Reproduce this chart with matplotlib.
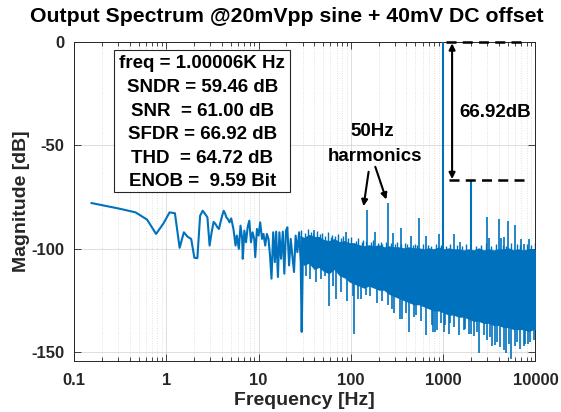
import numpy as np
import matplotlib
matplotlib.use('Agg')
import matplotlib.pyplot as plt
from matplotlib.patches import Rectangle
from matplotlib.ticker import LogLocator, NullFormatter

plt.rcParams['font.family'] = ['Liberation Sans', 'DejaVu Sans']
BLUE = '#0072BD'
DARK = '#262626'

title = 'Output Spectrum @20mVpp sine + 40mV DC offset'
x_ticks = [0.1, 1, 10, 100, 1000, 10000]
x_tick_labels = ['0.1', '1', '10', '100', '1000', '10000']
y_ticks = [-150, -100, -50, 0]
y_tick_labels = ['-150', '-100', '-50', '0']

# low-frequency bins (individually visible)
lf_freq = [0.155, 0.31, 0.465, 0.62, 0.775, 0.93, 1.085, 1.24, 1.395, 1.55, 1.705, 1.86,
           2.015, 2.17, 2.325, 2.48, 2.635, 2.79, 2.945, 3.1, 3.255, 3.41, 3.565, 3.72,
           3.875, 4.03, 4.185, 4.34, 4.495, 4.65]
lf_db = [-77.9, -80.6, -82.4, -85.9, -92.8, -87.8, -82.4, -82.8, -99.5, -92.0, -94.2, -95.2,
         -104.3, -104.5, -84.0, -81.6, -83.2, -84.8, -98.4, -92.0, -87.0, -88.0, -89.5, -90.4,
         -87.0, -84.0, -81.6, -83.0, -85.0, -85.6]

# 5 Hz - 30 Hz zig-zag
mid_freq = [4.84, 5.05, 5.34, 5.63, 5.81, 6.11, 6.37, 6.64, 6.74, 7.01, 7.31, 7.61, 7.93, 8.27,
            8.61, 8.97, 9.2, 9.6, 10.0, 10.4, 10.9, 11.3, 11.8, 12.3, 12.8, 13.3, 13.8, 14.4,
            15.0, 15.5, 16.2, 16.8, 17.5, 18.3, 19.0, 19.8, 20.5, 21.4, 22.3, 23.2, 24.2, 25.2,
            26.3, 27.5, 28.6, 29.3, 30.4]
mid_db = [-87.2, -85.3, -90.4, -98.4, -93.6, -100.0, -88.8, -95.2, -104.8, -91.2, -96.8, -89.6,
          -86.4, -96.8, -92.0, -95.2, -104.0, -90.4, -93.6, -87.2, -95.2, -92.8, -98.4, -92.8,
          -95.2, -103.2, -114.4, -92.0, -106.4, -91.7, -113.6, -92.0, -104.8, -91.7, -112.0,
          -91.2, -89.6, -108.0, -95.2, -103.2, -111.2, -93.6, -101.6, -92.0, -106.4, -140.1, -95.2]

# dense noise band (upper / lower envelope of the solid region)
band_freq = [28, 31, 35, 40, 45, 51, 58, 66, 75, 85, 96, 108, 123, 139, 157, 178, 202, 228,
             259, 293, 332, 375, 425, 481, 545, 617, 699, 791, 896, 1015, 1150, 1302, 1474,
             1669, 1890, 2141, 2424, 2745, 3108, 3519, 3985, 4512, 5110, 5786, 6551, 7419,
             8400, 9515, 10000]
band_top_db = [-93.5, -94.5, -93.0, -94.0, -94.0, -95.5, -96.0, -95.0, -96.5, -96.0, -97.0,
               -97.0, -98.0, -98.5, -98.0, -98.5, -98.0, -99.0, -98.5, -99.0, -99.0, -99.5,
               -99.0, -99.5, -99.5, -100.0, -99.5, -100.0, -99.0, -100.0, -99.5, -100.0, -100.0,
               -100.5, -100.0, -100.5, -99.5, -100.5, -100.0, -100.5, -100.0, -100.0, -99.5,
               -100.5, -100.0, -100.5, -100.0, -100.0, -100.5]
band_bot_db = [-106, -108, -107, -110, -109, -111, -112, -110, -113, -114, -116, -117, -118,
               -119, -118, -119, -120, -120, -122, -123, -124, -125, -126, -127, -127, -128,
               -129, -130, -130, -131, -132, -132, -133, -133, -134, -135, -135, -136, -136,
               -137, -137, -138, -138, -139, -139, -139, -140, -139, -139]

# small ragged peaks forming the top edge of the noise band
ripple_freq = [29, 32, 34, 37, 39, 43, 46, 49, 53, 56, 61, 63, 68, 72, 79, 82, 92, 100, 113,
               118, 131, 135, 145, 165, 172, 195, 210, 220, 240, 270, 300, 315, 345, 390, 410,
               470, 500, 520, 600, 680, 740, 830, 940, 1080, 1200, 1400, 1600, 1750, 2250,
               2600, 2900, 3300, 3700, 4400, 4800, 5400, 6300, 6800, 8000, 9000, 9800]
ripple_db = [-91.0, -92.5, -90.5, -92.0, -93.0, -91.5, -93.0, -92.5, -94.0, -92.0, -94.5,
             -93.5, -94.0, -93.0, -95.0, -94.0, -95.0, -94.5, -96.0, -95.0, -96.5, -95.5,
             -96.0, -96.5, -95.5, -97.0, -96.5, -97.5, -96.5, -97.0, -97.5, -96.5, -97.5,
             -97.0, -97.5, -98.0, -97.5, -98.0, -97.5, -98.0, -98.5, -97.5, -98.0, -98.5,
             -97.5, -98.0, -98.5, -97.5, -98.5, -98.0, -97.0, -98.5, -97.5, -98.0, -98.5,
             -97.0, -97.5, -98.0, -97.5, -98.0, -97.0]

# downward excursions below the solid band
dip_freq = [29.5, 33, 36.2, 42, 47.3, 52, 58.2, 64, 69.7, 78, 90, 104.3, 108, 118, 128, 145,
            161, 190, 215, 250, 281, 290.5, 337, 358, 400, 425, 478.6, 510, 580, 654, 758,
            772, 811, 858.7, 950, 1012, 1041, 1150, 1197, 1302, 1474, 1668, 1741, 1890,
            2021, 2141, 2300, 2466, 2745, 2993, 3243, 3392, 3672, 3842, 4157, 4532, 4778,
            5133, 5411, 6037, 6331, 6836, 7467, 7742, 8300, 8768, 9585]
dip_db = [-140.0, -113.0, -114.4, -116.0, -114.4, -113.0, -127.5, -118.0, -124.0, -121.0,
          -125.0, -123.0, -141.0, -124.0, -124.0, -122.5, -123.0, -126.0, -125.0, -127.0,
          -129.0, -131.0, -133.7, -134.0, -131.0, -140.0, -133.0, -132.0, -135.0, -141.7,
          -137.0, -140.0, -140.0, -139.0, -136.0, -140.0, -137.0, -141.0, -136.0, -137.6,
          -141.7, -139.0, -138.5, -141.0, -141.0, -142.0, -140.0, -150.5, -141.7, -144.0,
          -142.5, -147.0, -146.5, -145.0, -147.3, -149.0, -150.5, -146.0, -153.0, -146.7,
          -145.0, -148.3, -147.0, -145.7, -146.0, -144.9, -144.0]

# spurs above the noise band (50 Hz harmonics, signal harmonics)
spike_freq = [40, 88, 150, 181, 250, 288, 350, 450, 550, 650, 896, 1302, 1538, 3000, 3108,
              4000, 4266, 4510, 5000, 6000, 7000, 7600, 8600]
spike_db = [-91.0, -92.0, -81.1, -92.0, -77.9, -92.5, -90.0, -93.6, -85.2, -93.6, -92.8,
            -92.8, -96.8, -84.8, -95.0, -85.6, -95.0, -94.4, -86.7, -88.3, -95.2, -97.6, -95.2]

fund_freq = 1000.06
fund_db = 0.0
h2_freq = 2000.12
h2_db = -66.92
sfdr_label = '66.92dB'

stats_lines = ['freq = 1.00006K Hz', 'SNDR = 59.46 dB', 'SNR  = 61.00 dB',
               'SFDR = 66.92 dB', 'THD  = 64.72 dB', 'ENOB =  9.59 Bit']

# ---------------------------------------------------------------------------
fig = plt.figure(figsize=(5.61, 4.12), dpi=100)
ax = fig.add_axes([0.1319, 0.1245, 0.8226, 0.7743])
ax.set_xscale('log')

ax.plot(lf_freq + mid_freq, lf_db + mid_db, color=BLUE, lw=1.5, zorder=3)
ax.fill_between(band_freq, band_bot_db, band_top_db, color=BLUE, lw=0, zorder=3)
ax.vlines(ripple_freq, -105, ripple_db, color=BLUE, lw=1.0, zorder=3)
ax.vlines(dip_freq, dip_db, -105, color=BLUE, lw=1.2, zorder=3)
ax.vlines(spike_freq, -105, spike_db, color=BLUE, lw=1.2, zorder=3)
ax.vlines([fund_freq, h2_freq], -105, [fund_db, h2_db], color=BLUE, lw=1.5, zorder=3)

ax.set_xlim(0.1, 10000)
ax.set_ylim(-154, 0)
ax.set_xticks(x_ticks)
ax.set_xticklabels(x_tick_labels, fontsize=12, fontweight='bold', color=DARK)
ax.xaxis.set_minor_locator(LogLocator(base=10, subs=np.arange(2, 10), numticks=20))
ax.xaxis.set_minor_formatter(NullFormatter())
ax.set_yticks(y_ticks)
ax.set_yticklabels(y_tick_labels, fontsize=12, fontweight='bold', color=DARK)

ax.tick_params(which='both', direction='in', top=True, right=True, color=DARK, width=0.6)
ax.tick_params(which='major', length=5)
ax.tick_params(which='minor', length=3)
ax.tick_params(axis='x', which='major', pad=9)
ax.tick_params(axis='y', which='major', pad=7)

ax.grid(True, which='major', color=DARK, alpha=0.15, lw=0.7)
ax.grid(True, which='minor', axis='x', color=DARK, alpha=0.18, lw=0.6, dashes=(1, 2))
ax.set_axisbelow(True)
for s in ax.spines.values():
    s.set_color(DARK)
    s.set_linewidth(0.7)

ax.set_xlabel('Frequency [Hz]', fontsize=14, fontweight='bold', color=DARK, va='center')
ax.xaxis.set_label_coords(0.5, -0.126)
ax.set_ylabel('Magnitude [dB]', fontsize=14, fontweight='bold', color=DARK, va='center')
ax.yaxis.set_label_coords(-0.113, 0.5)

fig.text(0.512, 0.959, title, ha='center', va='center', fontsize=15.3, fontweight='bold')

# statistics box
ax.add_patch(Rectangle((0.0868, 0.5273), 0.3817, 0.4467, transform=ax.transAxes,
                       fc='white', ec=DARK, lw=0.8, zorder=5))
for i, line in enumerate(stats_lines):
    base_px = 68.4 + i * 23.6
    ax.text(0.2777, (360.7 - base_px) / 319.0, line, transform=ax.transAxes,
            ha='center', va='baseline', fontsize=13.5, fontweight='bold', zorder=6)

# SFDR annotation
ax.plot([1076, 7600], [0, 0], color='k', lw=1.8, dashes=(4, 2.5), clip_on=False, zorder=4)
ax.plot([1147, 7990], [h2_db, h2_db], color='k', lw=1.8, dashes=(4, 2.5), zorder=4)
ax.annotate('', xy=(1249, -0.8), xytext=(1249, h2_db + 0.6),
            arrowprops=dict(arrowstyle='<|-|>', color='k', lw=1.5, mutation_scale=9,
                            shrinkA=0, shrinkB=0), zorder=4)
ax.text(3620, -34.3, sfdr_label, ha='center', va='center', fontsize=13.5, fontweight='bold')

# 50 Hz harmonics annotation
ax.text(170, -43.5, '50Hz', ha='center', va='center', fontsize=13.5, fontweight='bold')
ax.text(183, -55.2, 'harmonics', ha='center', va='center', fontsize=13.5, fontweight='bold')
ax.annotate('', xy=(137.3, -79.4), xytext=(155.6, -62.8),
            arrowprops=dict(arrowstyle='-|>', color='k', lw=1.5, mutation_scale=9,
                            shrinkA=0, shrinkB=0))
ax.annotate('', xy=(242, -76.2), xytext=(183.9, -60.4),
            arrowprops=dict(arrowstyle='-|>', color='k', lw=1.5, mutation_scale=9,
                            shrinkA=0, shrinkB=0))

fig.savefig('out.png', dpi=100)
